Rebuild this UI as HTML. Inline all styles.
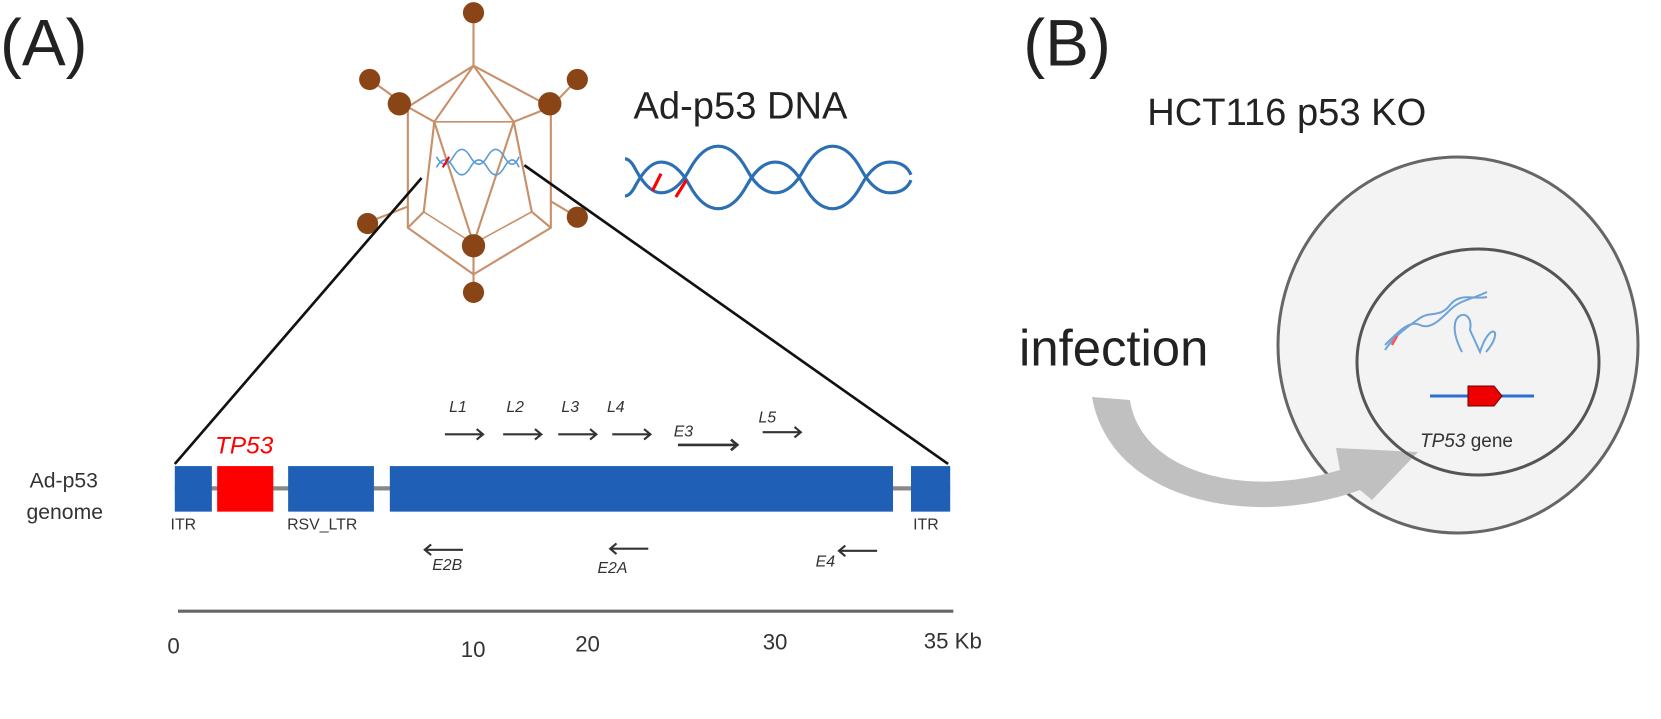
<!DOCTYPE html>
<html><head><style>
body{margin:0;background:#fff;}
svg{display:block;font-family:"Liberation Sans",sans-serif;}
</style></head><body>
<svg width="1661" height="719" viewBox="0 0 1661 719">
<rect width="1661" height="719" fill="#fff"/>
<g transform="scale(1.0593)">
<text x="0" y="62" font-size="62" fill="#222">(A)</text>
<text x="966" y="62" font-size="62" fill="#222">(B)</text>

<!-- virus -->
<g stroke="#c8906a" stroke-width="2" fill="none">
<line x1="447" y1="10" x2="447" y2="62"/>
<line x1="447" y1="276" x2="447" y2="259"/>
<polygon points="447,62 520,101 520,215 447,259 385,215 385,101"/>
<polygon points="410,115 485,115 502,200 447,230 400,200" stroke-width="1.5"/>
<line x1="447" y1="62" x2="410" y2="115"/><line x1="447" y1="62" x2="485" y2="115"/>
<line x1="385" y1="101" x2="410" y2="115"/><line x1="520" y1="101" x2="485" y2="115"/>
<line x1="385" y1="215" x2="400" y2="200"/><line x1="520" y1="215" x2="502" y2="200"/>
<line x1="447" y1="259" x2="447" y2="230"/>
<line x1="410" y1="115" x2="400" y2="200"/><line x1="485" y1="115" x2="502" y2="200"/>
<line x1="410" y1="115" x2="447" y2="230"/><line x1="485" y1="115" x2="447" y2="230"/>
<line x1="349" y1="75" x2="385" y2="101"/><line x1="545" y1="75" x2="520" y2="101"/>
<line x1="347" y1="210" x2="385" y2="195"/><line x1="545" y1="205" x2="520" y2="190"/>
</g>
<g fill="#8a4516">
<circle cx="447" cy="12" r="10"/><circle cx="349" cy="75" r="10"/><circle cx="545" cy="75" r="10"/>
<circle cx="377" cy="98" r="11"/><circle cx="519" cy="98" r="11"/>
<circle cx="347" cy="211" r="10"/><circle cx="545" cy="205" r="10"/>
<circle cx="447" cy="232" r="11"/><circle cx="447" cy="276" r="10"/>
</g>
<g stroke="#5b9bd5" stroke-width="1.5" fill="none">
<path d="M412 158 q8 -14 16 0 t16 0 t16 0 t16 0 t14 0"/>
<path d="M412 148 q8 14 16 0 t16 0 t16 0 t16 0 t14 0"/>
</g>
<line x1="418" y1="158" x2="424" y2="148" stroke="red" stroke-width="2"/>
<line x1="398" y1="168" x2="165" y2="438" stroke="#111" stroke-width="2.5"/>
<line x1="495" y1="156" x2="895" y2="438" stroke="#111" stroke-width="2.5"/>

<text x="598" y="112" font-size="36" fill="#222">Ad-p53 DNA</text>
<g stroke="#2c6fb3" stroke-width="3" fill="none">
<path d="M590 150 q5 0 10 10 q12 22 24 22 q15 0 27 -22 t27 -22 t27 22 t27 22 t27 -22 t27 -22 t27 22 t27 22 t20 -12"/>
<path d="M590 185 q5 0 10 -10 q12 -22 24 -22 q15 0 27 22 t27 22 t27 -22 t27 -22 t27 22 t27 22 t27 -22 t27 -22 t20 12"/>
</g>
<line x1="616" y1="180" x2="624" y2="164" stroke="red" stroke-width="3"/>
<line x1="638" y1="186" x2="648" y2="170" stroke="red" stroke-width="3"/>

<!-- genome -->
<text x="28" y="460" font-size="20" fill="#333">Ad-p53</text>
<text x="25" y="490" font-size="20" fill="#333">genome</text>
<line x1="165" y1="461" x2="897" y2="461" stroke="#888" stroke-width="4"/>
<rect x="165" y="440" width="35" height="43" fill="#1f5fb5"/>
<rect x="205" y="440" width="53" height="43" fill="#f00"/>
<rect x="272" y="440" width="81" height="43" fill="#1f5fb5"/>
<rect x="368" y="440" width="475" height="43" fill="#1f5fb5"/>
<rect x="860" y="440" width="37" height="43" fill="#1f5fb5"/>
<text x="203" y="428" font-size="23" font-style="italic" fill="#f00">TP53</text>
<g font-size="15" fill="#333">
<text x="161" y="500">ITR</text><text x="271" y="500">RSV_LTR</text><text x="862" y="500">ITR</text>
</g>
<g font-size="15" font-style="italic" fill="#333">
<text x="424" y="389">L1</text><text x="478" y="389">L2</text><text x="530" y="389">L3</text><text x="573" y="389">L4</text>
<text x="636" y="412">E3</text><text x="716" y="399">L5</text>
<text x="408" y="538">E2B</text><text x="564" y="541">E2A</text><text x="770" y="535">E4</text>
</g>
<g stroke="#333" stroke-width="2" fill="none">
<path d="M420 410 h36 m-6 -5 l6 5 l-6 5"/>
<path d="M475 410 h36 m-6 -5 l6 5 l-6 5"/>
<path d="M527 410 h36 m-6 -5 l6 5 l-6 5"/>
<path d="M578 410 h36 m-6 -5 l6 5 l-6 5"/>
<path d="M640 420 h56 m-6 -5 l6 5 l-6 5" stroke-width="2.5"/>
<path d="M720 408 h36 m-6 -5 l6 5 l-6 5"/>
<path d="M437 519 h-36 m6 -5 l-6 5 l6 5"/>
<path d="M612 518 h-36 m6 -5 l-6 5 l6 5"/>
<path d="M828 520 h-36 m6 -5 l-6 5 l6 5"/>
</g>
<line x1="168" y1="577" x2="900" y2="577" stroke="#666" stroke-width="3"/>
<g font-size="21" fill="#333">
<text x="158" y="617">0</text><text x="435" y="620">10</text><text x="543" y="615">20</text>
<text x="720" y="613">30</text><text x="872" y="612">35 Kb</text>
</g>
<text x="1083" y="118" font-size="36" fill="#222">HCT116 p53 KO</text>
<text x="962" y="345" font-size="48" fill="#222">infection</text>
</g>

<!-- B, original coords -->
<ellipse cx="1458" cy="345" rx="180" ry="188" fill="#f3f3f3" stroke="#666" stroke-width="3"/>
<path d="M1092 397 L1130 400 C1140 470, 1240 500, 1340 470 L1336 448 L1418 452 L1372 500 L1360 490 C1250 530, 1110 500, 1092 397 Z" fill="#c0c0c0"/>
<ellipse cx="1478" cy="362" rx="121" ry="113" fill="none" stroke="#555" stroke-width="3"/>
<g stroke="#6fa3d8" stroke-width="2" fill="none">
<path d="M1385 345 C1400 330, 1410 320, 1420 325 S1440 320, 1450 310 S1470 300, 1487 292"/>
<path d="M1385 350 C1395 335, 1410 325, 1420 318 S1440 318, 1450 305 S1475 300, 1487 297"/>
<path d="M1462 352 C1440 310, 1475 305, 1470 330 L1480 352 C1490 320, 1505 330, 1486 352"/>
</g>
<line x1="1392" y1="345" x2="1397" y2="336" stroke="#f55" stroke-width="2.5"/>
<line x1="1430" y1="396" x2="1534" y2="396" stroke="#2c6fd0" stroke-width="3"/>
<path d="M1468 386 h26 l8 10 l-8 10 h-26 z" fill="#e00" stroke="#600" stroke-width="1"/>
<text x="1420" y="447" font-size="19" fill="#333"><tspan font-style="italic">TP53</tspan> gene</text>
</svg>
</body></html>
